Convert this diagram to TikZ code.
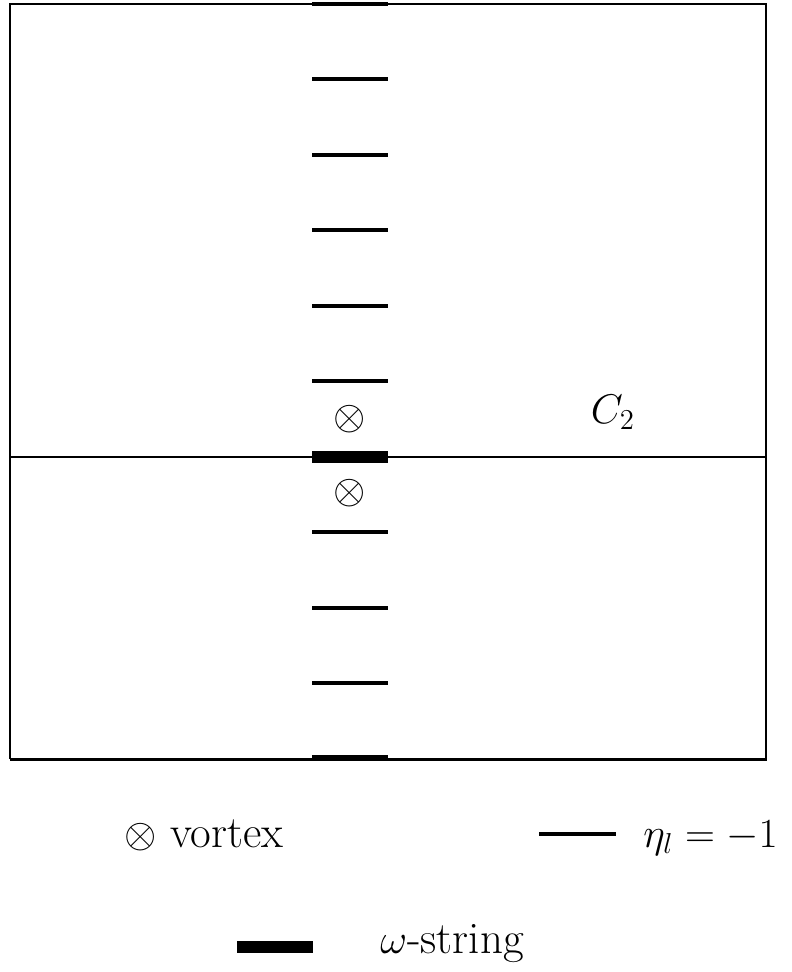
\documentclass[tikz,border=0pt]{standalone}
\usepackage{tikz}
\usetikzlibrary{positioning}
\tikzset{
 frameline/.style={line width=0.9pt,draw=black},
 etabar/.style={line width=1.8pt,draw=black},
 omegabar/.style={line width=5.8pt,draw=black},
 lbl/.style={inner sep=0pt,font=\fontsize{21}{25}\selectfont},
 legendlbl/.style={inner sep=0pt,font=\fontsize{22.5}{27}\selectfont}
}
\begin{document}
\begin{tikzpicture}[x=0.5pt,y=-0.5pt]
 \useasboundingbox (0,0) rectangle (791,972);
 % lattice box
 \draw[frameline] (10,759) -- (10,4) -- (766,4) -- (766,759);
 \draw[line width=1.3pt] (9.5,759.5) -- (766.5,759.5);
 \draw[frameline] (10,457) -- (766,457);
 % eta_l = -1 links
 \foreach \y in {4,79,155,230,306,381,532,608,683,757}
  \draw[etabar] (312,\y) -- (388,\y);
 % omega-string link
 \draw[omegabar] (312,457) -- (388,457);
 % vortices
 \node[lbl] (vup) at (350,419) {$\otimes$};
 \node[lbl] (vdown) at (350,493) {$\otimes$};
 \node[lbl,anchor=base] (c2) at (613,423) {$C_2$};
 % legend
 \node[legendlbl,anchor=base west] (lvortex) at (124,847) {$\otimes$ vortex};
 \coordinate (etaA) at (539,834);
 \coordinate (etaB) at (616,834);
 \draw[etabar] (etaA) -- (etaB);
 \node[legendlbl,anchor=base west] (leta) at (643,847) {$\eta_l=-1$};
 \coordinate (omA) at (237,947);
 \coordinate (omB) at (313,947);
 \draw[omegabar] (omA) -- (omB);
 \node[legendlbl,anchor=base west] (lomega) at (380,953) {$\omega$-string};
\end{tikzpicture}
\end{document}
